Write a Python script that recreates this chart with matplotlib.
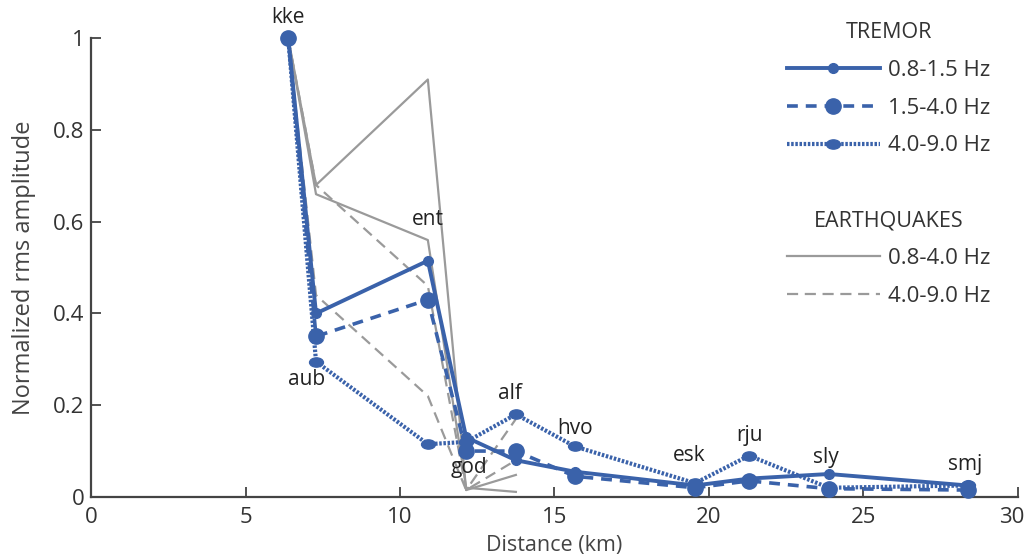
import numpy as np
import matplotlib
matplotlib.use("Agg")
import matplotlib.pyplot as plt
from matplotlib.lines import Line2D
from matplotlib.path import Path
from matplotlib.transforms import ScaledTranslation

# station distances (km) and names
stations = ["kke", "aub", "ent", "god", "alf", "hvo", "esk", "rju", "sly", "smj"]
dist = [6.38, 7.28, 10.9, 12.14, 13.75, 15.66, 19.55, 21.3, 23.88, 28.38]

# tremor normalized rms amplitudes
tremor_08_15 = [1.0, 0.40, 0.515, 0.13, 0.08, 0.055, 0.025, 0.04, 0.05, 0.025]
tremor_15_40 = [1.0, 0.35, 0.43, 0.10, 0.10, 0.045, 0.02, 0.035, 0.018, 0.015]
tremor_40_90 = [1.0, 0.295, 0.115, 0.12, 0.18, 0.11, 0.03, 0.09, 0.02, 0.025]

# earthquakes (only the five nearest stations)
eq_dist = dist[:5]
eq_08_40_a = [1.0, 0.68, 0.91, 0.015, 0.048]
eq_08_40_b = [1.0, 0.66, 0.56, 0.02, 0.011]
eq_40_90_a = [1.0, 0.68, 0.46, 0.015, 0.17]
eq_40_90_b = [1.0, 0.44, 0.22, 0.015, 0.08]

# station label positions
label_x = [6.38, 6.98, 10.9, 12.24, 13.55, 15.66, 19.35, 21.3, 23.78, 28.28]
label_y = [1.045, 0.255, 0.605, 0.065, 0.225, 0.15, 0.09, 0.135, 0.085, 0.07]

plt.rcParams['font.family'] = ['Open Sans', 'DejaVu Sans']
blue = '#3a62aa'
grey = '#9a9a9a'
txt = '#333333'

fig = plt.figure(figsize=(10.24, 5.54), dpi=100)
ax = fig.add_axes([0.089, 0.103, 0.905, 0.828])

# earthquakes
for ys in (eq_08_40_a, eq_08_40_b):
    ax.plot(eq_dist, ys, color=grey, lw=1.6, zorder=1)
for ys in (eq_40_90_a, eq_40_90_b):
    ax.plot(eq_dist, ys, color=grey, lw=1.6, ls=(0, (5, 3)), zorder=1)

# ellipse marker for the high-frequency tremor band
circ = Path.unit_circle()
ellipse = Path(circ.vertices * np.array([1.35, 0.9]), circ.codes)

ax.plot(dist, tremor_40_90, color=blue, lw=3, ls=(0, (0.6, 0.4)), marker=ellipse,
        ms=10, clip_on=False, zorder=3)
ax.plot(dist, tremor_15_40, color=blue, lw=2.6, ls=(0, (3, 2.2)), marker='o',
        ms=11, clip_on=False, zorder=3)
ax.plot(dist, tremor_08_15, color=blue, lw=2.8, marker='o', ms=7,
        clip_on=False, zorder=4)

for name, x, y in zip(stations, label_x, label_y):
    ax.text(x, y, name, ha='center', va='center', fontsize=15, color='#222222')

ax.set_xlim(0, 30)
ax.set_ylim(0, 1)
ax.set_xticks([0, 5, 10, 15, 20, 25, 30])
ax.set_yticks([0, 0.2, 0.4, 0.6, 0.8, 1])
ax.set_yticklabels(['0', '0.2', '0.4', '0.6', '0.8', '1'])
ax.tick_params(direction='in', length=7, width=1.2, labelsize=16, colors=txt)
ax.tick_params(axis='x', pad=7)
ax.tick_params(axis='y', pad=5)
for s in ('top', 'right'):
    ax.spines[s].set_visible(False)
for s in ('left', 'bottom'):
    ax.spines[s].set_linewidth(1.6)
    ax.spines[s].set_color('#444444')
ax.set_xlabel('Distance (km)', fontsize=15.5, color='#444444', labelpad=5)
ax.set_ylabel('Normalized rms amplitude', fontsize=17, color='#444444', labelpad=12)

# keep the last x tick label inside the figure
last = ax.get_xticklabels()[-1]
last.set_transform(last.get_transform() + ScaledTranslation(-6 / 100, 0, fig.dpi_scale_trans))

# legends
h_tremor = [
    Line2D([], [], color=blue, lw=2.8, marker='o', ms=7),
    Line2D([], [], color=blue, lw=2.6, ls=(0, (3, 2.2)), marker='o', ms=11),
    Line2D([], [], color=blue, lw=3, ls=(0, (0.6, 0.4)), marker=ellipse, ms=10),
]
leg_kw = dict(loc='upper left', frameon=False, fontsize=16, title_fontsize=15.5,
              handlelength=4.2, labelspacing=0.75, handletextpad=0.35,
              labelcolor=txt)
leg1 = ax.legend(h_tremor, ['0.8-1.5 Hz', '1.5-4.0 Hz', '4.0-9.0 Hz'], title='TREMOR',
                 bbox_to_anchor=(0.729, 1.078), **leg_kw)
leg1.get_title().set_color(txt)
ax.add_artist(leg1)
h_eq = [
    Line2D([], [], color=grey, lw=1.6),
    Line2D([], [], color=grey, lw=1.6, ls=(0, (5, 3))),
]
leg2 = ax.legend(h_eq, ['0.8-4.0 Hz', '4.0-9.0 Hz'], title='EARTHQUAKES',
                 bbox_to_anchor=(0.729, 0.668), **leg_kw)
leg2.get_title().set_color(txt)

fig.savefig('out.png', dpi=100)
